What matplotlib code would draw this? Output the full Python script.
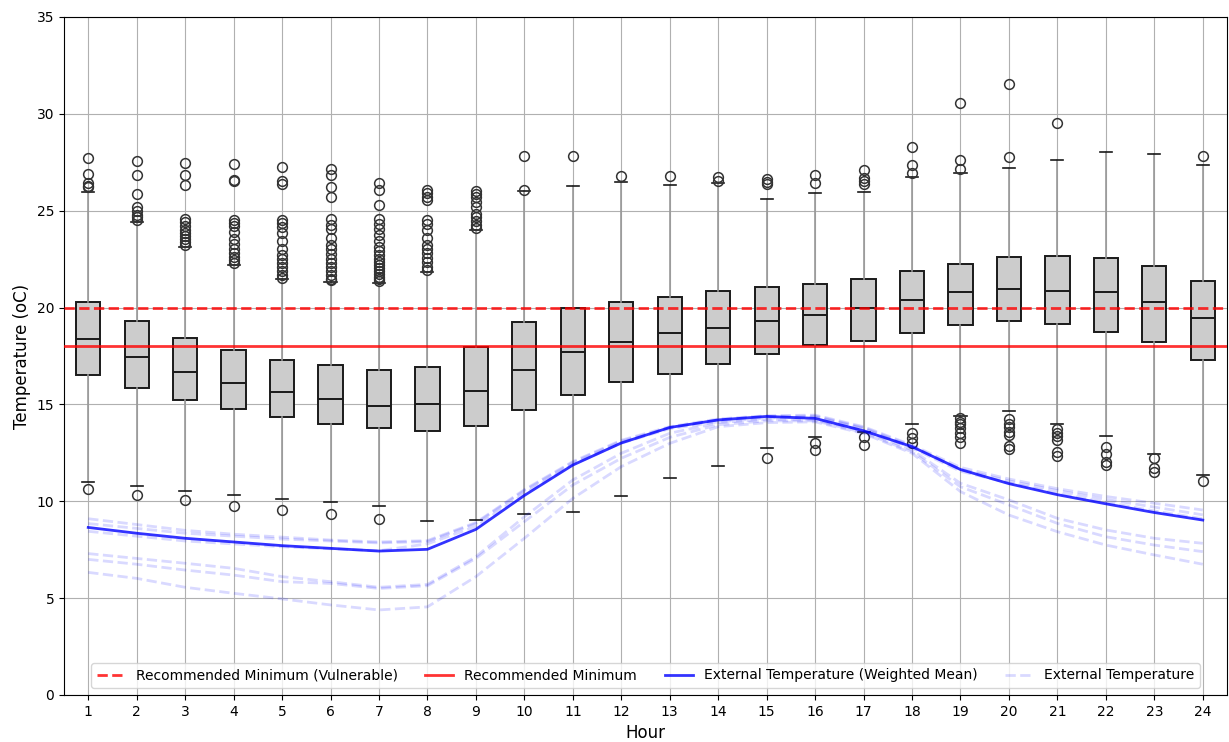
import matplotlib
matplotlib.use("Agg")
import matplotlib.pyplot as plt

hours = list(range(1, 25))

# indoor temperature distribution per hour (box statistics)
q1 = [16.50, 15.85, 15.21, 14.78, 14.34, 13.97, 13.77, 13.63, 13.90, 14.70, 15.50, 16.14,
      16.57, 17.07, 17.59, 18.05, 18.29, 18.67, 19.08, 19.29, 19.15, 18.72, 18.24, 17.29]
median = [18.36, 17.47, 16.69, 16.09, 15.64, 15.28, 14.92, 15.00, 15.69, 16.79, 17.72, 18.22,
          18.67, 18.93, 19.31, 19.62, 19.96, 20.39, 20.80, 20.96, 20.87, 20.80, 20.30, 19.45]
q3 = [20.30, 19.31, 18.45, 17.79, 17.29, 17.02, 16.78, 16.93, 17.95, 19.24, 19.96, 20.30,
      20.53, 20.87, 21.05, 21.23, 21.46, 21.89, 22.25, 22.61, 22.66, 22.54, 22.16, 21.37]
whisker_low = [10.98, 10.77, 10.55, 10.34, 10.12, 9.98, 9.77, 8.96, 9.05, 9.34, 9.46, 10.27,
               11.20, 11.84, 12.77, 13.30, 13.60, 13.99, 14.40, 14.65, 13.99, 13.37, 12.44, 11.36]
whisker_high = [25.98, 24.40, 23.11, 22.20, 21.46, 21.34, 21.28, 21.85, 24.00, 26.03, 26.26, 26.48,
                26.34, 26.41, 25.60, 25.93, 25.98, 26.76, 26.96, 27.19, 27.62, 28.05, 27.91, 27.36]

outliers_high = [
    [27.7, 26.9, 26.45, 26.3, 26.2],
    [27.55, 26.85, 25.85, 25.2, 25.0, 24.8, 24.65, 24.5],
    [27.45, 26.85, 26.35, 24.55, 24.4, 24.2, 24.0, 23.85, 23.7, 23.55, 23.4, 23.25],
    [27.4, 26.6, 26.55, 24.5, 24.35, 24.2, 23.9, 23.55, 23.3, 23.0, 22.8, 22.6, 22.45, 22.3],
    [27.25, 26.55, 26.4, 24.5, 24.35, 24.15, 23.85, 23.45, 23.0, 22.7, 22.5, 22.3, 22.1, 21.9,
     21.7, 21.55],
    [27.15, 26.85, 26.25, 25.7, 24.55, 24.25, 24.05, 23.6, 23.25, 23.0, 22.75, 22.5, 22.3, 22.1,
     21.9, 21.7, 21.5, 21.4],
    [26.45, 26.05, 25.3, 24.55, 24.3, 24.05, 23.75, 23.45, 23.15, 22.9, 22.7, 22.5, 22.35, 22.2,
     22.05, 21.9, 21.75, 21.6, 21.45, 21.35],
    [26.05, 25.9, 25.7, 25.55, 24.5, 24.3, 24.0, 23.6, 23.25, 23.0, 22.8, 22.55, 22.35, 22.1, 21.95],
    [26.0, 25.85, 25.7, 25.45, 25.2, 24.85, 24.7, 24.45, 24.25, 24.1],
    [27.85, 26.05],
    [27.8],
    [26.8],
    [26.8],
    [26.75, 26.55],
    [26.65, 26.5, 26.4],
    [26.85, 26.45],
    [27.1, 26.7, 26.55, 26.4],
    [28.3, 27.35, 26.95],
    [30.55, 27.6, 27.15],
    [31.55, 27.75],
    [29.55],
    [],
    [],
    [27.8],
]
outliers_low = [
    [10.65], [10.35], [10.05], [9.77], [9.55], [9.33], [9.1], [], [], [], [], [], [], [],
    [12.25],
    [13.0, 12.65],
    [13.3, 12.9],
    [13.5, 13.25, 13.0],
    [14.3, 14.1, 14.0, 13.8, 13.55, 13.3, 13.0],
    [14.25, 14.0, 13.85, 13.6, 13.4, 12.85, 12.7],
    [13.75, 13.55, 13.35, 13.15, 12.55, 12.35],
    [12.8, 12.45, 12.05, 11.85],
    [12.25, 11.7, 11.5],
    [11.05],
]

# external temperature, weighted mean and individual stations
ext_mean = [8.65, 8.35, 8.09, 7.90, 7.71, 7.57, 7.43, 7.52, 8.55, 10.30, 11.87, 13.01,
            13.81, 14.20, 14.38, 14.28, 13.64, 12.82, 11.64, 10.91, 10.34, 9.87, 9.42, 9.03]
ext_stations = [
    [9.10, 8.80, 8.50, 8.30, 8.15, 8.00, 7.90, 7.97, 8.90, 10.60, 12.05, 13.15,
     13.85, 14.25, 14.42, 14.45, 13.85, 12.90, 11.75, 11.15, 10.65, 10.25, 9.90, 9.55],
    [8.85, 8.60, 8.35, 8.20, 8.05, 7.95, 7.85, 7.92, 8.85, 10.55, 12.00, 13.10,
     13.80, 14.20, 14.38, 14.40, 13.80, 12.85, 11.65, 11.05, 10.55, 10.10, 9.70, 9.30],
    [8.45, 8.20, 7.95, 7.80, 7.65, 7.55, 7.45, 7.80, 8.70, 10.40, 11.90, 13.00,
     13.75, 14.10, 14.30, 14.35, 13.75, 12.75, 11.55, 10.95, 10.40, 9.95, 9.50, 9.10],
    [7.30, 7.05, 6.80, 6.54, 6.11, 5.85, 5.56, 5.71, 7.14, 9.20, 11.10, 12.48,
     13.51, 14.06, 14.23, 14.20, 13.65, 12.65, 10.93, 10.07, 9.12, 8.52, 8.09, 7.83],
    [7.00, 6.75, 6.45, 6.19, 5.85, 5.76, 5.50, 5.64, 7.05, 8.95, 10.84, 12.22,
     13.30, 13.95, 14.15, 14.15, 13.55, 12.55, 10.75, 9.81, 8.86, 8.17, 7.74, 7.40],
    [6.33, 6.02, 5.56, 5.25, 4.96, 4.65, 4.39, 4.55, 6.11, 8.09, 10.15, 11.79,
     12.99, 13.85, 14.06, 14.10, 13.50, 12.48, 10.50, 9.29, 8.43, 7.74, 7.23, 6.75],
]

rec_min_vulnerable = 20
rec_min = 18

stats = []
for i, h in enumerate(hours):
    stats.append(dict(med=median[i], q1=q1[i], q3=q3[i],
                      whislo=whisker_low[i], whishi=whisker_high[i],
                      fliers=outliers_high[i] + outliers_low[i], label=str(h)))

fig = plt.figure(figsize=(12.29, 7.42), dpi=100)
ax = fig.add_axes([64 / 1229, 47 / 742, 1163 / 1229, 678 / 742])
ax.set_axisbelow(True)
ax.grid(True, color='#b0b0b0', linewidth=0.8)

ax.bxp(stats, positions=hours, widths=0.5, patch_artist=True,
       boxprops=dict(facecolor='#cccccc', edgecolor='#1a1a1a', linewidth=1.4),
       medianprops=dict(color='#1a1a1a', linewidth=1.4),
       whiskerprops=dict(color='#999999', linewidth=1.2),
       capprops=dict(color='#1a1a1a', linewidth=1.2),
       flierprops=dict(marker='o', markerfacecolor='none', markeredgecolor='#333333',
                       markersize=7, markeredgewidth=1.1))

ax.axhline(rec_min_vulnerable, color='r', linestyle='--', linewidth=2, alpha=0.8, zorder=3,
           label='Recommended Minimum (Vulnerable)')
ax.axhline(rec_min, color='r', linewidth=2, alpha=0.8, zorder=3, label='Recommended Minimum')
ax.plot(hours, ext_mean, color='b', linewidth=2, alpha=0.8, zorder=4,
        label='External Temperature (Weighted Mean)')
for j, series in enumerate(ext_stations):
    ax.plot(hours, series, color='b', linestyle='--', linewidth=2, alpha=0.15, zorder=3,
            label='External Temperature' if j == 0 else None)

ax.set_xlim(0.5, 24.5)
ax.set_ylim(0, 35)
ax.set_xticks(hours)
ax.set_xticklabels([str(h) for h in hours])
ax.set_xlabel('Hour', fontsize=12)
ax.set_ylabel('Temperature (oC)', fontsize=12)

ax.legend(loc='lower center', ncol=4, fontsize=10)

fig.savefig('out.png', dpi=100)
